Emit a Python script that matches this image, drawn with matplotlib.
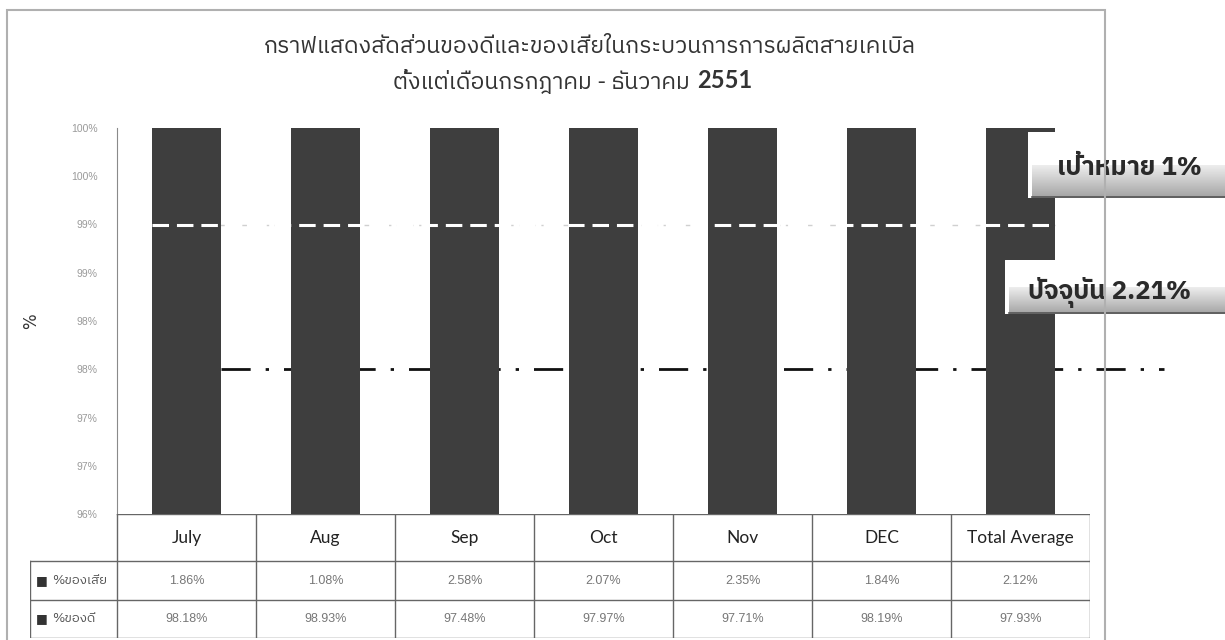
import numpy as np
import matplotlib
matplotlib.use('Agg')
import matplotlib.pyplot as plt
from matplotlib import font_manager
from matplotlib.ft2font import FT2Font
from matplotlib.patches import Rectangle

months = ['July', 'Aug', 'Sep', 'Oct', 'Nov', 'DEC', 'Total Average']
defect_pct = [1.86, 1.08, 2.58, 2.07, 2.35, 1.84, 2.12]
good_pct = [98.18, 98.93, 97.48, 97.97, 97.71, 98.19, 97.93]
row_labels = ['%ของเสีย', '%ของดี']
ytick_vals = [96, 96.5, 97, 97.5, 98, 98.5, 99, 99.5, 100]
ytick_labels = ['96%', '97%', '97%', '98%', '98%', '99%', '99%', '100%', '100%']
target_level = 99.0     # white dashed target line
current_level = 97.5    # dash-dot line
target_text = 'เป้าหมาย 1%'
current_text = 'ปัจจุบัน 2.21%'
title_1 = 'กราฟแสดงสัดส่วนของดีและของเสียในกระบวนการการผลิตสายเคเบิล'
title_2 = 'ตั้งแต่เดือนกรกฎาคม - ธันวาคม'
title_year = '2551'


def thai_family():
    # first installed family that has Thai glyphs
    names = []
    for f in font_manager.fontManager.ttflist:
        try:
            if 0x0E01 in FT2Font(f.fname).get_charmap():
                names.append(f.name)
        except Exception:
            pass
    for n in names:
        if 'Thai' in n:
            return n
    return names[0] if names else 'DejaVu Sans'


THAI = thai_family()
FONTS = [THAI, 'DejaVu Sans']

W, H = 1225, 640
fig = plt.figure(figsize=(W / 100, H / 100), dpi=100)
fig.patch.set_facecolor('white')


def fx(px):
    return px / W


def fy(py):
    return 1 - py / H


# chart frame
fig.add_artist(Rectangle((fx(7), fy(660)), fx(1105) - fx(7), fy(10) - fy(660),
                         transform=fig.transFigure, fill=False,
                         edgecolor='#b0b0b0', lw=1.5))

# plot area
ax = fig.add_axes([fx(117), fy(514), fx(1090) - fx(117), fy(128) - fy(514)])
x = np.arange(len(months))
bar_color = '#3e3e3e'
ax.bar(x, good_pct, width=0.5, color=bar_color, lw=0, zorder=2)
ax.bar(x, defect_pct, width=0.5, bottom=good_pct, color=bar_color, lw=0, zorder=2)
ax.set_xlim(-0.5, len(months) - 0.5)
ax.set_ylim(96, 100)
ax.set_xticks([])
ax.set_yticks(ytick_vals)
ax.set_yticklabels(ytick_labels, fontsize=7.5, color='#9a9a9a', family='Liberation Sans')
ax.tick_params(axis='y', length=0, pad=14)
for s in ['top', 'right', 'bottom']:
    ax.spines[s].set_visible(False)
ax.spines['left'].set_color('#8a8a8a')
ax.set_ylabel('%', fontsize=12, color='#333333')
ax.yaxis.set_label_coords(-0.079, 0.5)

# target line: thin grey in the gaps, white dashes over the bars
ax.plot([-0.25, 6.25], [target_level] * 2, color='#d0d0d0', lw=1,
        linestyle=(0, (4, 4)), zorder=1)
ax.plot([-0.25, 6.25], [target_level] * 2, color='white', lw=2.2,
        linestyle=(0, (5.4, 2.6)), zorder=3)
# current level line
ax.plot([0.25, 7.03], [current_level] * 2, color='#111111', lw=2,
        linestyle=(0, (10.5, 5.4, 1.2, 5.4)), zorder=1, clip_on=False)

# data table under the chart
tab = fig.add_axes([fx(30), fy(638), fx(1090) - fx(30), fy(514) - fy(638)])
x_left = -0.5 - 87 / 139
tab.set_xlim(x_left, len(months) - 0.5)
tab.set_ylim(124, 0)
tab.axis('off')
rows_y = [0, 47, 86, 124]
lc = '#666666'
tab.plot([-0.5, 6.5], [0, 0], color=lc, lw=1)
for yy in rows_y[1:]:
    tab.plot([x_left, 6.5], [yy, yy], color=lc, lw=1)
for i in range(len(months) + 1):
    tab.plot([i - 0.5, i - 0.5], [0, 124], color=lc, lw=1)
tab.plot([x_left, x_left], [47, 124], color=lc, lw=1)
for i, m in enumerate(months):
    tab.text(i, 24, m, ha='center', va='center', fontsize=12.5,
             family='Lato', color='#222222')
    tab.text(i, 66.5, f'{defect_pct[i]:.2f}%', ha='center', va='center',
             fontsize=9, family='Liberation Sans', color='#777777')
    tab.text(i, 105, f'{good_pct[i]:.2f}%', ha='center', va='center',
             fontsize=9, family='Liberation Sans', color='#777777')
for yy, lab in zip([66.5, 105], row_labels):
    tab.text(x_left + 0.045, yy, '■', ha='left', va='center', fontsize=9,
             color='#333333', family='DejaVu Sans')
    tab.text(x_left + 0.16, yy, lab, ha='left', va='center', fontsize=9.5,
             color='#555555', family=FONTS)

# titles
fig.text(fx(590), fy(47), title_1, ha='center', va='center', fontsize=16.5,
         color='#333333', family=FONTS)
fig.text(fx(690), fy(81), title_2, ha='right', va='center', fontsize=16.5,
         color='#333333', family=FONTS)
fig.text(fx(697), fy(80), title_year, ha='left', va='center', fontsize=17,
         fontweight='bold', color='#333333', family='Lato')


def callout(x0, y0, x1, y1, text, tx, ty):
    bx = fig.add_axes([fx(x0), fy(y1), fx(x1) - fx(x0), fy(y0) - fy(y1)])
    bx.set_xlim(0, 1)
    bx.set_ylim(0, 1)
    bx.axis('off')
    bx.add_patch(Rectangle((0, 0), 1, 1, color='white', zorder=0))
    grad = np.linspace(0.64, 0.93, 64).reshape(-1, 1)
    bx.imshow(grad, cmap='gray', vmin=0, vmax=1, extent=(0.02, 1, 0, 0.5),
              aspect='auto', origin='lower', zorder=1)
    bx.plot([0.02, 1], [0.01, 0.01], color='#555555', lw=1.2, zorder=2)
    bx.text(tx, ty, text, ha='left', va='center', fontsize=18.5,
            fontweight='bold', color='#2a2a2a', family=FONTS, zorder=3)


callout(1028, 132, 1225, 198, target_text, 0.147, 0.45)
callout(1005, 260, 1225, 314, current_text, 0.105, 0.40)

fig.savefig('out.png', dpi=100, facecolor='white')
